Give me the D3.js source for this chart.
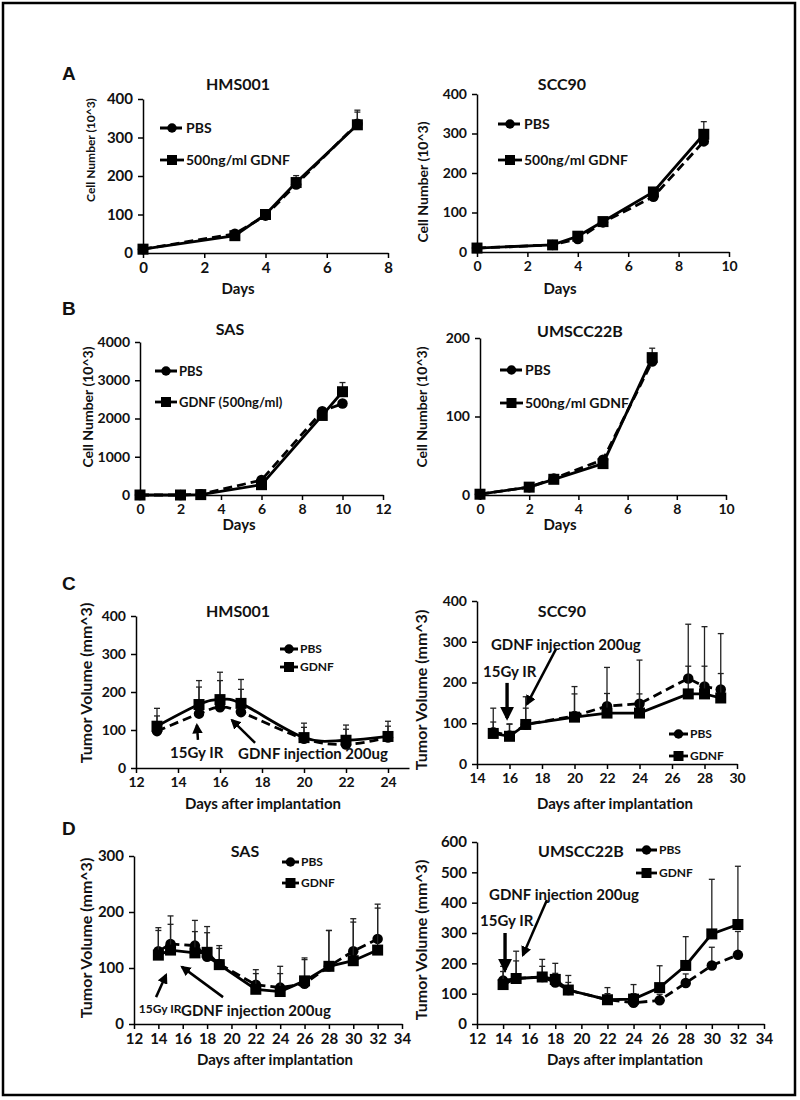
<!DOCTYPE html>
<html>
<head>
<meta charset="utf-8">
<script src="https://cdn.jsdelivr.net/npm/d3@7"></script>
<style>
  body { margin: 0; background: #fff; }
  svg text { font-family: Lato, "Open Sans", sans-serif; font-weight: bold; fill: #111; }
  svg text.letter { font-family: "Liberation Sans", Arial, sans-serif; }
</style>
</head>
<body>
<div id="fig"></div>
<script>
// --- DATA ---

// A: HMS001 cell growth
const aHmsDays = [0, 3, 4, 5, 7];
const aHmsPbs = [10, 50, 97, 178, 336];
const aHmsPbsErr = [2, 5, 6, 12, 30];
const aHmsGdnf = [10, 45, 100, 183, 333];
const aHmsGdnfErr = [2, 4, 8, 18, 38];

// A: SCC90 cell growth
const aSccDays = [0, 3, 4, 5, 7, 9];
const aSccPbs = [10, 18, 33, 75, 140, 280];
const aSccPbsErr = [2, 3, 4, 5, 6, 20];
const aSccGdnf = [10, 18, 40, 77, 152, 298];
const aSccGdnfErr = [2, 3, 4, 5, 8, 32];

// B: SAS cell growth
const bSasDays = [0, 2, 3, 6, 9, 10];
const bSasPbs = [0, 0, 20, 390, 2190, 2390];
const bSasPbsErr = [0, 0, 10, 40, 80, 60];
const bSasGdnf = [0, 0, 10, 270, 2080, 2700];
const bSasGdnfErr = [0, 0, 10, 30, 60, 240];

// B: UMSCC22B cell growth
const bUmDays = [0, 2, 3, 5, 7];
const bUmPbs = [1, 10, 21, 45, 170];
const bUmPbsErr = [0.5, 1, 2, 3, 8];
const bUmGdnf = [1, 10, 20, 40, 175];
const bUmGdnfErr = [0.5, 1, 2, 3, 12];

// C: HMS001 tumor volume
const cHmsDays = [13, 15, 16, 17, 20, 22, 24];
const cHmsPbs = [97, 143, 160, 147, 77, 62, 80];
const cHmsPbsErr = [40, 70, 70, 60, 30, 40, 30];
const cHmsGdnf = [110, 167, 180, 170, 80, 73, 83];
const cHmsGdnfErr = [47, 63, 72, 63, 38, 40, 40];

// C: SCC90 tumor volume
const cSccDays = [15, 16, 17, 20, 22, 24, 27, 28, 29];
const cSccPbs = [78, 70, 97, 118, 142, 148, 210, 190, 183];
const cSccPbsErr = [59, 28, 68, 72, 95, 107, 133, 147, 137];
const cSccGdnf = [75, 68, 97, 115, 125, 125, 172, 172, 162];
const cSccGdnfErr = [28, 30, 40, 57, 48, 47, 68, 68, 60];

// D: SAS tumor volume
const dSasDays = [14, 15, 17, 18, 19, 22, 24, 26, 28, 30, 32];
const dSasPbs = [130, 143, 140, 120, 107, 70, 65, 72, 103, 130, 152];
const dSasPbsErr = [42, 50, 45, 54, 33, 27, 38, 46, 64, 58, 62];
const dSasGdnf = [123, 132, 127, 128, 106, 62, 58, 77, 103, 113, 132];
const dSasGdnfErr = [44, 46, 38, 35, 29, 28, 32, 38, 64, 69, 75];

// D: UMSCC22B tumor volume
const dUmDays = [14, 15, 17, 18, 19, 22, 24, 26, 28, 30, 32];
const dUmPbs = [143, 150, 155, 137, 112, 80, 70, 78, 135, 193, 228];
const dUmPbsErr = [30, 58, 35, 30, 25, 20, 30, 20, 30, 60, 77];
const dUmGdnf = [130, 150, 155, 147, 112, 80, 82, 120, 193, 297, 328];
const dUmGdnfErr = [60, 90, 58, 53, 48, 40, 48, 72, 95, 180, 192];

// labels
const cellYLabel = "Cell Number (10^3)";
const tumorYLabel = "Tumor Volume (mm^3)";
const daysLabel = "Days";
const implLabel = "Days after implantation";
const irLabel = "15Gy IR";
const injLabel = "GDNF injection 200ug";

// =========================================================
// SETUP
// =========================================================
const svg = d3.select("#fig").append("svg")
    .attr("width", 800).attr("height", 1100);

svg.append("rect")
    .attr("x", 3).attr("y", 3).attr("width", 792).attr("height", 1092)
    .attr("fill", "none").attr("stroke", "#000").attr("stroke-width", 2.5);

svg.append("defs").append("marker")
    .attr("id", "arrowHead")
    .attr("viewBox", "0 0 10 10")
    .attr("refX", 8).attr("refY", 5)
    .attr("markerWidth", 4.2).attr("markerHeight", 4.2)
    .attr("orient", "auto")
    .append("path").attr("d", "M0,0L10,5L0,10z").attr("fill", "#000");

// panel letters
[["A", 62, 80], ["B", 62, 315], ["C", 62, 590], ["D", 62, 835]].forEach(([t, x, y]) => {
    svg.append("text").attr("class", "letter")
        .attr("x", x).attr("y", y).style("font-size", "19px").text(t);
});

function drawMarker(g, shape, cx, cy, size) {
    if (shape === "circle") {
        g.append("circle").attr("cx", cx).attr("cy", cy).attr("r", size / 2).attr("fill", "#000");
    } else {
        g.append("rect").attr("x", cx - size / 2).attr("y", cy - size / 2)
            .attr("width", size).attr("height", size).attr("fill", "#000");
    }
}

// =========================================================
// ONE PANEL
// =========================================================
function drawPanel(p) {
    const g = svg.append("g");
    const x = d3.scaleLinear().domain(p.xDomain).range([p.left, p.right]);
    const y = d3.scaleLinear().domain(p.yDomain).range([p.bottom, p.top]);

    const yAxis = g.append("g")
        .attr("transform", `translate(${p.left},0)`)
        .call(d3.axisLeft(y).tickValues(p.yTicks).tickSize(5).tickSizeOuter(0)
            .tickPadding(5).tickFormat(d3.format("d")));
    const xAxis = g.append("g")
        .attr("transform", `translate(0,${p.bottom})`)
        .call(d3.axisBottom(x).tickValues(p.xTicks).tickSize(5).tickSizeOuter(0)
            .tickPadding(4).tickFormat(d3.format("d")));
    [yAxis, xAxis].forEach(a => {
        a.selectAll("path, line").attr("stroke", "#000").attr("stroke-width", 1.5);
        a.selectAll("text").style("font-size", p.tickFont + "px");
    });

    // titles
    g.append("text").attr("x", p.title[1]).attr("y", p.title[2])
        .attr("text-anchor", "middle").style("font-size", "16px").text(p.title[0]);
    g.append("text")
        .attr("transform", `translate(${p.yTitle[1]},${p.yTitle[2]}) rotate(-90)`)
        .attr("text-anchor", "middle").style("font-size", p.yTitle[3] + "px").text(p.yTitle[0]);
    g.append("text").attr("x", p.xTitle[1]).attr("y", p.xTitle[2])
        .attr("text-anchor", "middle").style("font-size", p.xTitle[3] + "px").text(p.xTitle[0]);

    // series
    const line = d3.line()
        .x(d => x(d.day)).y(d => y(d.v))
        .curve(p.smooth ? d3.curveCatmullRom.alpha(0) : d3.curveLinear);

    p.series.forEach(s => {
        const pts = s.days.map((day, i) => ({ day, v: s.vals[i], e: s.errs[i] }));
        const eg = g.append("g").attr("stroke", "#222").attr("stroke-width", 1.3);
        pts.forEach(d => {
            eg.append("line").attr("x1", x(d.day)).attr("x2", x(d.day))
                .attr("y1", y(d.v)).attr("y2", y(d.v + d.e));
            eg.append("line").attr("x1", x(d.day) - 3).attr("x2", x(d.day) + 3)
                .attr("y1", y(d.v + d.e)).attr("y2", y(d.v + d.e));
        });
        g.append("path").datum(pts)
            .attr("fill", "none").attr("stroke", "#000").attr("stroke-width", 2.8)
            .attr("stroke-dasharray", s.dashed ? "9,5" : null)
            .attr("d", line);
        pts.forEach(d => drawMarker(g, s.shape, x(d.day), y(d.v), s.shape === "circle" ? 10.5 : 11));
    });

    // legend
    const lg = p.legend;
    p.series.forEach((s, i) => {
        const cy = lg.rows[i];
        g.append("line").attr("x1", lg.x).attr("x2", lg.x + lg.len)
            .attr("y1", cy).attr("y2", cy)
            .attr("stroke", "#000").attr("stroke-width", 2.8)
            .attr("stroke-dasharray", s.dashed ? "9,4" : null);
        drawMarker(g, s.shape, lg.x + lg.len / 2, cy, s.shape === "circle" ? 9.5 : 10);
        g.append("text").attr("x", lg.x + lg.len + 2).attr("y", cy + lg.font * 0.36)
            .style("font-size", lg.font + "px").text(s.name);
    });

    // annotations (data units)
    (p.notes || []).forEach(n => {
        if (n.text) {
            g.append("text").attr("x", x(n.x)).attr("y", y(n.y))
                .style("font-size", (n.size || 15) + "px").text(n.text);
        } else {
            g.append("line")
                .attr("x1", x(n.x1)).attr("y1", y(n.y1))
                .attr("x2", x(n.x2)).attr("y2", y(n.y2))
                .attr("stroke", "#000").attr("stroke-width", n.w)
                .attr("marker-end", "url(#arrowHead)");
        }
    });
}

const range = (a, b, s) => d3.range(a, b + s / 2, s);

// =========================================================
// PANELS
// =========================================================
drawPanel({
    left: 143, right: 388, top: 99, bottom: 253,
    xDomain: [0, 8], xTicks: range(0, 8, 2), yDomain: [0, 400], yTicks: range(0, 400, 100),
    tickFont: 15, title: ["HMS001", 238, 90],
    yTitle: [cellYLabel, 95, 150, 12], xTitle: [daysLabel, 238, 294, 15],
    legend: { x: 160, rows: [128, 160], len: 24, font: 14 },
    series: [
        { name: "PBS", days: aHmsDays, vals: aHmsPbs, errs: aHmsPbsErr, dashed: true, shape: "circle" },
        { name: "500ng/ml GDNF", days: aHmsDays, vals: aHmsGdnf, errs: aHmsGdnfErr, dashed: false, shape: "square" }
    ]
});

drawPanel({
    left: 477, right: 729, top: 94, bottom: 252,
    xDomain: [0, 10], xTicks: range(0, 10, 2), yDomain: [0, 400], yTicks: range(0, 400, 100),
    tickFont: 14, title: ["SCC90", 562, 90],
    yTitle: [cellYLabel, 428, 182, 14], xTitle: [daysLabel, 560, 294, 15],
    legend: { x: 498, rows: [124, 160], len: 24, font: 14 },
    series: [
        { name: "PBS", days: aSccDays, vals: aSccPbs, errs: aSccPbsErr, dashed: true, shape: "circle" },
        { name: "500ng/ml GDNF", days: aSccDays, vals: aSccGdnf, errs: aSccGdnfErr, dashed: false, shape: "square" }
    ]
});

drawPanel({
    left: 140, right: 383, top: 342, bottom: 495,
    xDomain: [0, 12], xTicks: range(0, 12, 2), yDomain: [0, 4000], yTicks: range(0, 4000, 1000),
    tickFont: 14, title: ["SAS", 230, 335],
    yTitle: [cellYLabel, 93, 407, 14], xTitle: [daysLabel, 239, 530, 15],
    legend: { x: 155, rows: [371, 402], len: 22, font: 13 },
    series: [
        { name: "PBS", days: bSasDays, vals: bSasPbs, errs: bSasPbsErr, dashed: true, shape: "circle" },
        { name: "GDNF (500ng/ml)", days: bSasDays, vals: bSasGdnf, errs: bSasGdnfErr, dashed: false, shape: "square" }
    ]
});

drawPanel({
    left: 480, right: 726, top: 338, bottom: 495,
    xDomain: [0, 10], xTicks: range(0, 10, 2), yDomain: [0, 200], yTicks: [0, 100, 200],
    tickFont: 14, title: ["UMSCC22B", 580, 337],
    yTitle: [cellYLabel, 427, 407, 14], xTitle: [daysLabel, 560, 530, 15],
    legend: { x: 500, rows: [370, 403], len: 23, font: 14 },
    series: [
        { name: "PBS", days: bUmDays, vals: bUmPbs, errs: bUmPbsErr, dashed: true, shape: "circle" },
        { name: "500ng/ml GDNF", days: bUmDays, vals: bUmGdnf, errs: bUmGdnfErr, dashed: false, shape: "square" }
    ]
});

drawPanel({
    left: 136, right: 409, top: 616, bottom: 768, smooth: true,
    xDomain: [12, 25], xTicks: range(12, 24, 2), yDomain: [0, 400], yTicks: range(0, 400, 100),
    tickFont: 14, title: ["HMS001", 238, 617],
    yTitle: [tumorYLabel, 92, 683, 16], xTitle: [implLabel, 263, 809, 15],
    legend: { x: 280, rows: [649, 667], len: 18, font: 12 },
    series: [
        { name: "PBS", days: cHmsDays, vals: cHmsPbs, errs: cHmsPbsErr, dashed: true, shape: "circle" },
        { name: "GDNF", days: cHmsDays, vals: cHmsGdnf, errs: cHmsGdnfErr, dashed: false, shape: "square" }
    ],
    notes: [
        { text: irLabel, x: 13.62, y: 26 },
        { text: injLabel, x: 16.86, y: 24 },
        { x1: 14.95, y1: 74, x2: 14.9, y2: 113, w: 2.5 },
        { x1: 17.67, y1: 66, x2: 16.57, y2: 126, w: 2.5 }
    ]
});

drawPanel({
    left: 477, right: 737, top: 601, bottom: 764,
    xDomain: [14, 30], xTicks: range(14, 30, 2), yDomain: [0, 400], yTicks: range(0, 400, 100),
    tickFont: 14, title: ["SCC90", 562, 617],
    yTitle: [tumorYLabel, 427, 690, 16], xTitle: [implLabel, 615, 809, 15],
    legend: { x: 669, rows: [734, 756], len: 19, font: 12 },
    series: [
        { name: "PBS", days: cSccDays, vals: cSccPbs, errs: cSccPbsErr, dashed: true, shape: "circle" },
        { name: "GDNF", days: cSccDays, vals: cSccGdnf, errs: cSccGdnfErr, dashed: false, shape: "square" }
    ],
    notes: [
        { text: injLabel, x: 14.86, y: 280 },
        { text: irLabel, x: 14.37, y: 213 },
        { x1: 15.85, y1: 199, x2: 15.85, y2: 113, w: 3.4 },
        { x1: 18.86, y1: 282, x2: 17.08, y2: 147, w: 2.5 }
    ]
});

drawPanel({
    left: 134, right: 402, top: 856, bottom: 1024,
    xDomain: [12, 34], xTicks: range(12, 34, 2), yDomain: [0, 300], yTicks: range(0, 300, 100),
    tickFont: 15, title: ["SAS", 245, 857],
    yTitle: [tumorYLabel, 92, 938, 16], xTitle: [implLabel, 275, 1065, 15],
    legend: { x: 282, rows: [862, 883], len: 17, font: 12 },
    series: [
        { name: "PBS", days: dSasDays, vals: dSasPbs, errs: dSasPbsErr, dashed: true, shape: "circle" },
        { name: "GDNF", days: dSasDays, vals: dSasGdnf, errs: dSasGdnfErr, dashed: false, shape: "square" }
    ],
    notes: [
        { text: irLabel, x: 12.4, y: 20, size: 12 },
        { text: injLabel, x: 15.86, y: 14, size: 15 },
        { x1: 13.81, y1: 48, x2: 14.63, y2: 87.5, w: 2.5 },
        { x1: 19.31, y1: 48, x2: 15.94, y2: 102, w: 2.5 }
    ]
});

drawPanel({
    left: 477, right: 764, top: 842, bottom: 1024,
    xDomain: [12, 34], xTicks: range(12, 34, 2), yDomain: [0, 600], yTicks: range(0, 600, 100),
    tickFont: 15, title: ["UMSCC22B", 581, 857],
    yTitle: [tumorYLabel, 427, 940, 16], xTitle: [implLabel, 625, 1065, 15],
    legend: { x: 636, rows: [850, 873], len: 21, font: 12 },
    series: [
        { name: "PBS", days: dUmDays, vals: dUmPbs, errs: dUmPbsErr, dashed: true, shape: "circle" },
        { name: "GDNF", days: dUmDays, vals: dUmGdnf, errs: dUmGdnfErr, dashed: false, shape: "square" }
    ],
    notes: [
        { text: injLabel, x: 12.92, y: 409 },
        { text: irLabel, x: 12.23, y: 323 },
        { x1: 14.15, y1: 300, x2: 14.15, y2: 178, w: 3.4 },
        { x1: 17.36, y1: 409, x2: 15.52, y2: 227, w: 2.5 }
    ]
});
</script>
</body>
</html>
